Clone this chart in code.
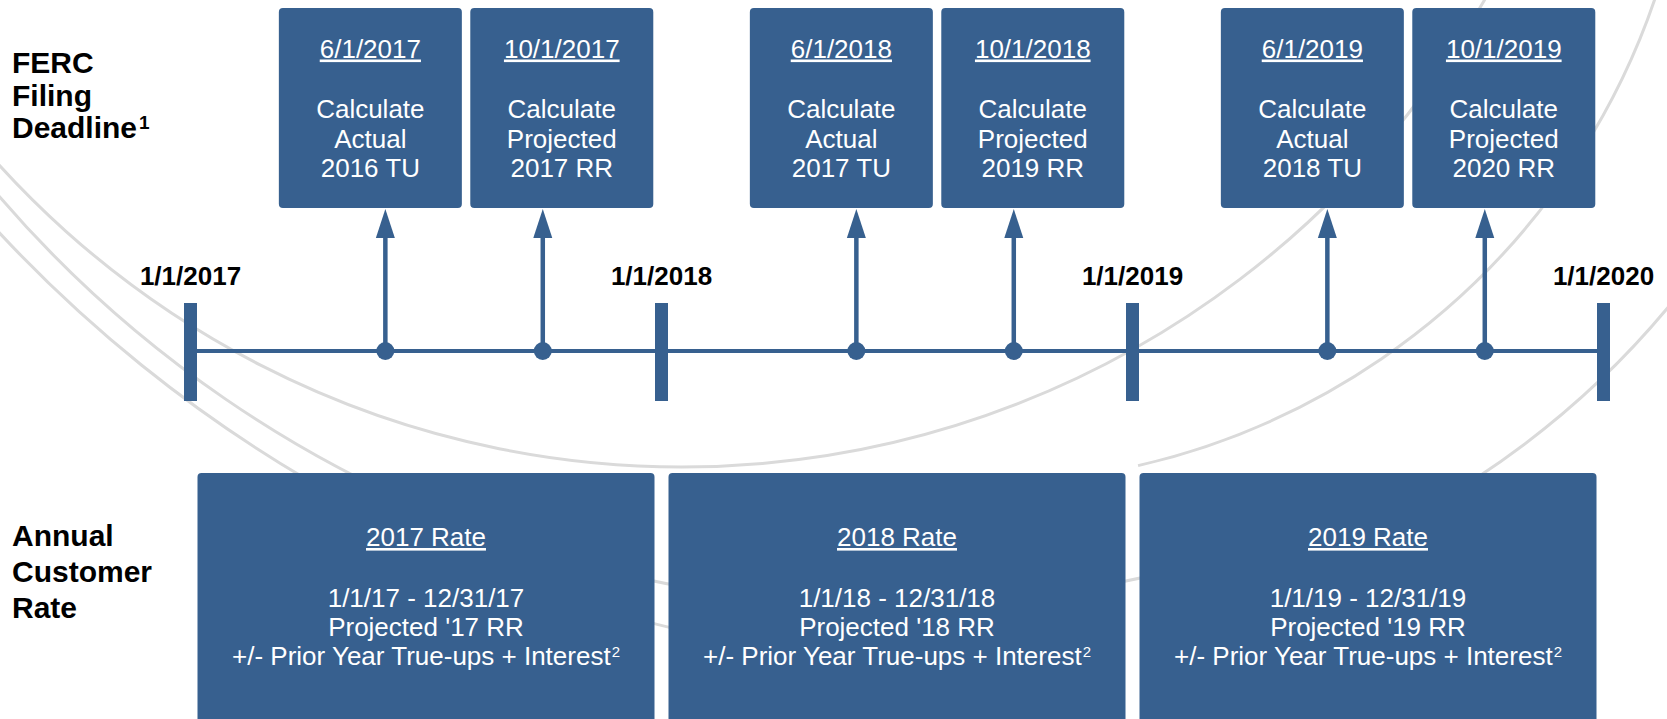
<!DOCTYPE html>
<html>
<head>
<meta charset="utf-8">
<script src="https://cdn.jsdelivr.net/npm/d3@7"></script>
<style>
  body { margin: 0; background: #fff; }
  svg { display: block; font-family: "Liberation Sans", Arial, Helvetica, sans-serif; }
</style>
</head>
<body>
<div id="chart"></div>
<script>
// timeline data
const yearMarks = ['1/1/2017', '1/1/2018', '1/1/2019', '1/1/2020']
const filingDates = ['6/1/2017', '10/1/2017', '6/1/2018', '10/1/2018', '6/1/2019', '10/1/2019']
const filingLines = [
  ['Calculate', 'Actual', '2016 TU'],
  ['Calculate', 'Projected', '2017 RR'],
  ['Calculate', 'Actual', '2017 TU'],
  ['Calculate', 'Projected', '2019 RR'],
  ['Calculate', 'Actual', '2018 TU'],
  ['Calculate', 'Projected', '2020 RR']
]
const rateTitles = ['2017 Rate', '2018 Rate', '2019 Rate']
const ratePeriods = ['1/1/17 - 12/31/17', '1/1/18 - 12/31/18', '1/1/19 - 12/31/19']
const rateProjected = ["Projected '17 RR", "Projected '18 RR", "Projected '19 RR"]
const rateTrueUp = '+/- Prior Year True-ups + Interest'

// background rings (center x, center y, radius, start deg, end deg)
const rings = [
  [682, -456, 923, 25, 145],
  [890, -570, 1175, 70, 142],
  [1000, -700, 1368, 95, 140],
  [977, -232, 716, -12, 77],
  [1000, -250, 870, 35, 57]
]

const width = 1667
const height = 719
const blue = '#37608f'
const lineY = 351

const parse = d3.timeParse('%m/%d/%Y')

const svg = d3
  .select('#chart')
  .append('svg')
  .attr('width', width)
  .attr('height', height)

const x = d3
  .scaleTime()
  .domain([parse(yearMarks[0]), parse(yearMarks[yearMarks.length - 1])])
  .range([190.5, 1603.5])

// watermark rings
rings.forEach(function(r) {
  const p = d3.path()
  const a0 = (r[3] * Math.PI) / 180
  const a1 = (r[4] * Math.PI) / 180
  p.moveTo(r[0] + r[2] * Math.cos(a0), r[1] + r[2] * Math.sin(a0))
  p.arc(r[0], r[1], r[2], a0, a1)
  svg
    .append('path')
    .attr('d', p.toString())
    .attr('fill', 'none')
    .attr('stroke', '#dadada')
    .attr('stroke-width', 3)
})

// side labels
const sideLabels = [
  { lines: ['FERC', 'Filing', 'Deadline'], sup: '1', y: 73, step: 32.5 },
  { lines: ['Annual', 'Customer', 'Rate'], sup: null, y: 546, step: 36 }
]
sideLabels.forEach(function(s) {
  s.lines.forEach(function(l, i) {
    const t = svg
      .append('text')
      .attr('x', 12)
      .attr('y', s.y + i * s.step)
      .style('font-size', '30px')
      .style('font-weight', 700)
      .attr('fill', '#000')
      .text(l)
    if (s.sup && i === s.lines.length - 1) {
      t.append('tspan')
        .attr('dx', 2)
        .attr('dy', -9)
        .style('font-size', '19px')
        .text(s.sup)
    }
  })
})

// main line
svg
  .append('line')
  .attr('x1', x.range()[0])
  .attr('x2', x.range()[1])
  .attr('y1', lineY)
  .attr('y2', lineY)
  .attr('stroke', blue)
  .attr('stroke-width', 4)

// year ticks and labels
yearMarks.forEach(function(d) {
  const xp = x(parse(d))
  svg
    .append('rect')
    .attr('x', xp - 6.5)
    .attr('y', 303)
    .attr('width', 13)
    .attr('height', 98)
    .attr('fill', blue)
  svg
    .append('text')
    .attr('x', xp)
    .attr('y', 285)
    .attr('text-anchor', 'middle')
    .style('font-size', '26px')
    .style('font-weight', 700)
    .attr('fill', '#000')
    .text(d)
})

// filing deadline boxes
const boxW = 183
const boxTop = 8
const boxBottom = 208
filingDates.forEach(function(d, i) {
  const xp = x(parse(d))
  const cx = xp + (i % 2 === 0 ? -15 : 19)

  svg
    .append('rect')
    .attr('x', cx - boxW / 2)
    .attr('y', boxTop)
    .attr('width', boxW)
    .attr('height', boxBottom - boxTop)
    .attr('rx', 4)
    .attr('fill', blue)

  svg
    .append('text')
    .attr('x', cx)
    .attr('y', 57.5)
    .attr('text-anchor', 'middle')
    .style('font-size', '26px')
    .style('text-decoration', 'underline')
    .attr('fill', '#fff')
    .text(d)

  filingLines[i].forEach(function(l, j) {
    svg
      .append('text')
      .attr('x', cx)
      .attr('y', 118 + j * 29.5)
      .attr('text-anchor', 'middle')
      .style('font-size', '26px')
      .attr('fill', '#fff')
      .text(l)
  })

  // arrow stem, head and dot
  svg
    .append('line')
    .attr('x1', xp)
    .attr('x2', xp)
    .attr('y1', lineY)
    .attr('y2', boxBottom + 28)
    .attr('stroke', blue)
    .attr('stroke-width', 4.5)
  svg
    .append('path')
    .attr('d', 'M' + (xp - 9.5) + ',' + (boxBottom + 30) + 'L' + xp + ',' + (boxBottom + 1) + 'L' + (xp + 9.5) + ',' + (boxBottom + 30) + 'Z')
    .attr('fill', blue)
  svg
    .append('circle')
    .attr('cx', xp)
    .attr('cy', lineY)
    .attr('r', 9)
    .attr('fill', blue)
})

// annual rate boxes
rateTitles.forEach(function(d, i) {
  const x0 = x(parse(yearMarks[i])) + 7
  const x1 = x(parse(yearMarks[i + 1])) - 7
  const cx = (x0 + x1) / 2

  svg
    .append('rect')
    .attr('x', x0)
    .attr('y', 473)
    .attr('width', x1 - x0)
    .attr('height', 260)
    .attr('rx', 4)
    .attr('fill', blue)

  svg
    .append('text')
    .attr('x', cx)
    .attr('y', 546)
    .attr('text-anchor', 'middle')
    .style('font-size', '26px')
    .style('text-decoration', 'underline')
    .attr('fill', '#fff')
    .text(d)

  svg
    .append('text')
    .attr('x', cx)
    .attr('y', 607)
    .attr('text-anchor', 'middle')
    .style('font-size', '26px')
    .attr('fill', '#fff')
    .text(ratePeriods[i])

  svg
    .append('text')
    .attr('x', cx)
    .attr('y', 636)
    .attr('text-anchor', 'middle')
    .style('font-size', '26px')
    .attr('fill', '#fff')
    .text(rateProjected[i])

  const t = svg
    .append('text')
    .attr('x', cx)
    .attr('y', 665)
    .attr('text-anchor', 'middle')
    .style('font-size', '26px')
    .attr('fill', '#fff')
  t.append('tspan').text(rateTrueUp)
  t.append('tspan')
    .attr('dx', 1)
    .attr('dy', -8)
    .style('font-size', '15px')
    .text('2')
})
</script>
</body>
</html>
